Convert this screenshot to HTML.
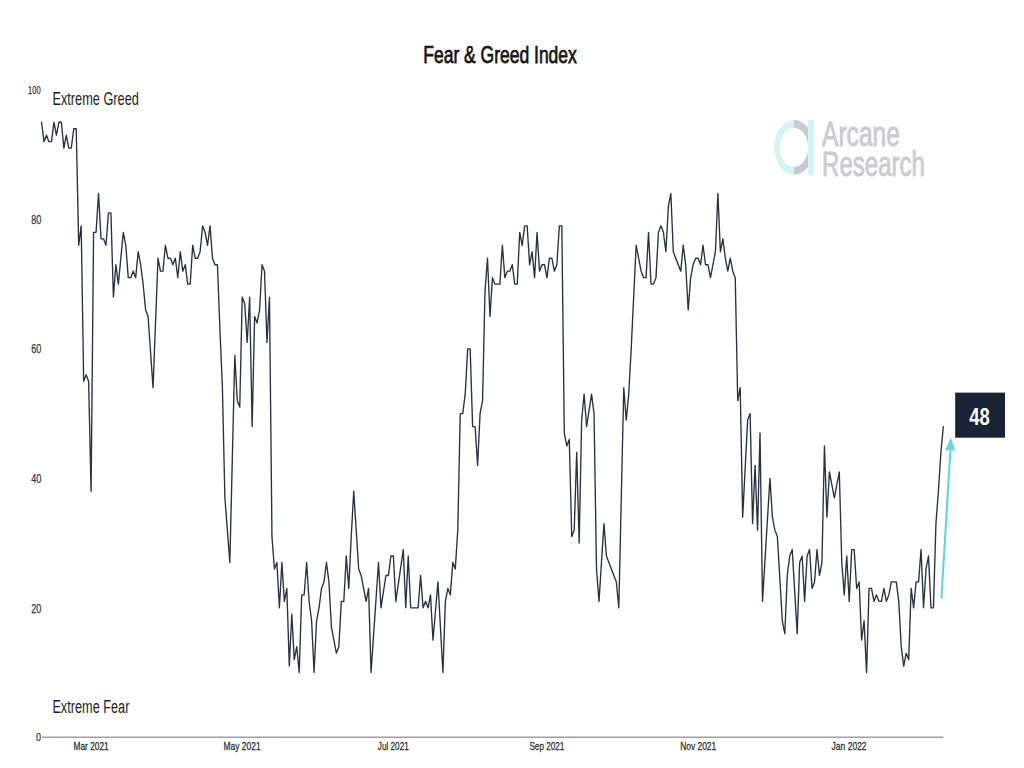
<!DOCTYPE html>
<html><head><meta charset="utf-8">
<style>
html,body{margin:0;padding:0;background:#fff;}
body{width:1024px;height:768px;overflow:hidden;position:relative;}
svg{position:absolute;left:0;top:0;}
text{font-family:"Liberation Sans",sans-serif;}
</style></head><body>
<svg width="1024" height="768" viewBox="0 0 1024 768">
<rect x="0" y="0" width="1024" height="768" fill="#fff"/>
<!-- title -->
<text x="423.3" y="63.1" font-size="24.3" fill="#141414" stroke="#141414" stroke-width="0.75" textLength="153.5" lengthAdjust="spacingAndGlyphs">Fear &amp; Greed Index</text>
<!-- y axis labels -->
<g font-size="12" fill="#383840" stroke="#383840" stroke-width="0.25">
<text x="28" y="94.2" font-size="10.2" textLength="12.6" lengthAdjust="spacingAndGlyphs">100</text>
<text x="31.2" y="223.5" textLength="10.2" lengthAdjust="spacingAndGlyphs">80</text>
<text x="31.2" y="353.3" textLength="10.2" lengthAdjust="spacingAndGlyphs">60</text>
<text x="31.2" y="482.5" textLength="10.2" lengthAdjust="spacingAndGlyphs">40</text>
<text x="31.2" y="612.5" textLength="10.2" lengthAdjust="spacingAndGlyphs">20</text>
<text x="35.9" y="741" font-size="10.2" textLength="5" lengthAdjust="spacingAndGlyphs">0</text>
</g>
<text x="52.4" y="105.4" font-size="18.5" fill="#1e1e1e" textLength="86.5" lengthAdjust="spacingAndGlyphs">Extreme Greed</text>
<text x="52.4" y="713.2" font-size="18" fill="#1e1e1e" textLength="77" lengthAdjust="spacingAndGlyphs">Extreme Fear</text>
<!-- axis -->
<line x1="42" y1="737.3" x2="943.5" y2="737.3" stroke="#a0a0a0" stroke-width="1.6"/>
<g font-size="11.6" fill="#303030" stroke="#303030" stroke-width="0.3">
<text x="73.6" y="749.7" textLength="35" lengthAdjust="spacingAndGlyphs">Mar 2021</text>
<text x="223.6" y="749.7" textLength="37" lengthAdjust="spacingAndGlyphs">May 2021</text>
<text x="377.8" y="749.7" textLength="31" lengthAdjust="spacingAndGlyphs">Jul 2021</text>
<text x="529.4" y="749.7" textLength="35" lengthAdjust="spacingAndGlyphs">Sep 2021</text>
<text x="680.2" y="749.7" textLength="36" lengthAdjust="spacingAndGlyphs">Nov 2021</text>
<text x="831.6" y="749.7" textLength="35" lengthAdjust="spacingAndGlyphs">Jan 2022</text>
</g>
<!-- logo -->
<defs>
<clipPath id="cl"><rect x="770" y="110" width="24.1" height="70"/></clipPath>
<clipPath id="cr"><rect x="794.1" y="110" width="14" height="70"/></clipPath>
</defs>
<path clip-path="url(#cl)" fill="#d3f4f4" fill-rule="evenodd" d="M774.1,147.4 a20,27.4 0 1,0 40,0 a20,27.4 0 1,0 -40,0 Z M779.8,147.4 a14.2,19.5 0 1,0 28.4,0 a14.2,19.5 0 1,0 -28.4,0 Z"/>
<path clip-path="url(#cr)" fill="#cac9cf" fill-rule="evenodd" d="M774.1,147.4 a20,27.4 0 1,0 40,0 a20,27.4 0 1,0 -40,0 Z M779.8,147.4 a14.2,19.5 0 1,0 28.4,0 a14.2,19.5 0 1,0 -28.4,0 Z"/>
<rect x="808.1" y="120" width="6.1" height="54.8" fill="#d3f4f4"/>
<text x="822" y="146.2" font-size="34.7" fill="#cccbd1" stroke="#cccbd1" stroke-width="0.9" textLength="78" lengthAdjust="spacingAndGlyphs">Arcane</text>
<text x="822" y="175.6" font-size="34.7" fill="#cccbd1" stroke="#cccbd1" stroke-width="0.9" textLength="103" lengthAdjust="spacingAndGlyphs">Research</text>
<!-- line -->
<polyline fill="none" stroke="#283043" stroke-width="1.35" stroke-linejoin="round" stroke-linecap="round" points="41.55,122.27 44.03,141.69 46.50,135.22 48.98,141.69 51.46,141.69 53.94,122.27 56.41,135.22 58.89,122.27 61.37,122.27 63.85,148.17 66.32,135.22 68.80,148.17 71.28,148.17 73.76,128.74 76.23,128.74 78.71,245.28 81.19,225.85 83.67,381.23 86.14,374.76 88.62,381.23 91.10,491.29 93.58,232.33 96.06,232.33 98.53,193.48 101.01,238.80 103.49,238.80 105.97,245.28 108.44,212.91 110.92,212.91 113.40,297.07 115.88,264.70 118.35,284.12 123.31,232.33 125.78,245.28 128.26,277.65 130.74,277.65 133.22,271.17 135.69,277.65 138.17,251.75 140.65,264.70 143.13,284.12 145.61,310.02 148.08,316.49 153.04,387.70 157.99,258.22 160.47,271.17 162.95,271.17 165.43,245.28 167.90,258.22 170.38,258.22 172.86,264.70 175.33,258.22 177.81,277.65 180.29,251.75 182.77,271.17 185.25,264.70 187.72,284.12 190.20,284.12 192.68,245.28 195.15,258.22 197.63,258.22 200.11,251.75 202.59,225.85 205.06,232.33 207.54,245.28 210.02,225.85 212.50,258.22 214.98,264.70 217.45,264.70 219.93,329.44 222.41,387.70 224.88,497.76 229.84,562.50 234.80,355.33 237.27,400.65 239.75,407.13 242.23,297.07 244.70,303.54 247.18,342.39 249.66,297.07 252.14,426.55 254.62,316.49 257.09,322.96 259.57,310.02 262.05,264.70 264.52,271.17 267.00,342.39 269.48,297.07 271.96,536.61 274.44,568.98 276.91,562.50 279.39,607.82 281.87,562.50 284.35,601.35 286.82,588.40 289.30,666.09 291.78,614.29 294.25,659.61 296.73,646.66 299.21,672.56 301.69,594.87 304.17,594.87 306.64,562.50 309.12,601.35 311.60,620.77 314.07,672.56 316.55,620.77 319.03,607.82 321.51,588.40 323.99,581.92 326.46,562.50 328.94,581.92 331.42,627.24 336.37,653.14 338.85,646.66 341.33,601.35 343.81,601.35 346.28,556.03 348.76,588.40 351.24,536.61 353.72,491.29 358.67,568.98 361.15,575.45 366.10,601.35 368.58,588.40 371.06,672.56 378.49,562.50 380.97,607.82 385.92,575.45 388.40,575.45 390.88,556.03 393.36,556.03 395.83,601.35 403.27,549.55 405.74,607.82 408.22,556.03 410.70,607.82 418.13,607.82 420.61,575.45 423.09,607.82 425.56,601.35 428.04,607.82 430.52,594.87 433.00,640.19 437.95,581.92 442.91,672.56 445.38,601.35 447.86,588.40 450.34,594.87 452.81,562.50 455.29,568.98 457.77,530.13 460.25,413.60 462.73,413.60 465.20,394.18 467.68,348.86 470.16,348.86 472.63,426.55 475.11,426.55 477.59,465.39 480.07,413.60 482.55,400.65 485.02,290.59 487.50,258.22 489.98,316.49 492.46,277.65 494.93,284.12 499.89,284.12 502.37,245.28 504.84,277.65 507.32,271.17 509.80,271.17 512.27,264.70 514.75,284.12 517.23,284.12 519.71,232.33 522.18,245.28 524.66,225.85 527.14,225.85 529.62,264.70 532.10,251.75 534.57,277.65 537.05,232.33 539.53,271.17 542.00,264.70 544.48,264.70 546.96,277.65 549.44,258.22 551.91,258.22 554.39,271.17 556.87,264.70 559.35,225.85 561.82,225.85 564.30,433.02 566.78,445.97 569.26,439.50 571.74,536.61 574.21,530.13 576.69,452.44 579.17,543.08 581.64,420.07 584.12,394.18 586.60,426.55 591.55,394.18 594.03,413.60 596.51,568.98 598.99,601.35 603.94,523.66 606.42,556.03 616.33,581.92 618.81,607.82 623.76,387.70 626.24,420.07 628.72,394.18 631.19,348.86 633.67,297.07 636.15,245.28 638.63,258.22 641.11,271.17 643.58,277.65 646.06,277.65 648.54,232.33 651.01,284.12 653.49,284.12 655.97,277.65 658.45,232.33 660.92,225.85 663.40,232.33 665.88,251.75 668.36,206.43 670.83,193.48 673.31,251.75 675.79,258.22 678.27,264.70 680.75,271.17 683.22,245.28 685.70,264.70 688.18,310.02 690.65,277.65 693.13,264.70 695.61,258.22 698.09,258.22 700.56,264.70 703.04,245.28 705.52,264.70 708.00,264.70 710.47,277.65 715.43,251.75 717.91,193.48 720.38,251.75 722.86,238.80 725.34,258.22 727.82,271.17 730.29,258.22 732.77,271.17 735.25,277.65 737.73,400.65 740.20,387.70 742.68,517.18 747.64,420.07 750.12,413.60 752.59,523.66 755.07,465.39 757.55,530.13 760.02,433.02 762.50,601.35 769.93,478.34 772.41,517.18 774.89,530.13 777.37,536.61 782.32,620.77 784.80,633.72 787.28,575.45 789.75,556.03 792.23,549.55 797.19,633.72 799.66,562.50 802.14,556.03 804.62,601.35 807.10,556.03 809.57,549.55 812.05,588.40 814.53,581.92 817.01,549.55 819.49,575.45 821.96,562.50 824.44,445.97 826.92,517.18 829.39,471.87 834.35,497.76 839.30,471.87 841.78,562.50 844.26,594.87 846.74,556.03 849.21,601.35 851.69,549.55 854.17,549.55 856.65,588.40 859.12,581.92 861.60,640.19 864.08,620.77 866.56,672.56 869.03,588.40 871.51,588.40 873.99,601.35 876.47,594.87 878.94,601.35 881.42,601.35 883.90,588.40 886.38,601.35 888.86,594.87 891.33,581.92 896.29,581.92 898.76,601.35 901.24,646.66 903.72,666.09 906.20,653.14 908.67,659.61 911.15,588.40 913.63,607.82 916.11,581.92 918.58,581.92 921.06,549.55 923.54,607.82 926.02,568.98 928.50,556.03 930.97,607.82 933.45,607.82 935.93,523.66 938.40,491.29 940.88,452.44 943.36,426.55"/>
<!-- arrow -->
<line x1="941.4" y1="598.6" x2="950.6" y2="447" stroke="#5dd8da" stroke-width="2.1"/>
<polygon points="950.7,437.6 945,450.8 950.6,449.6 955.2,451" fill="#5dd8da"/>
<!-- box -->
<rect x="955.2" y="392.6" width="49.8" height="45.1" fill="#1a2335"/>
<text x="969.3" y="424.8" font-size="24.5" font-weight="bold" fill="#fff" textLength="20.5" lengthAdjust="spacingAndGlyphs">48</text>
</svg>
</body></html>
